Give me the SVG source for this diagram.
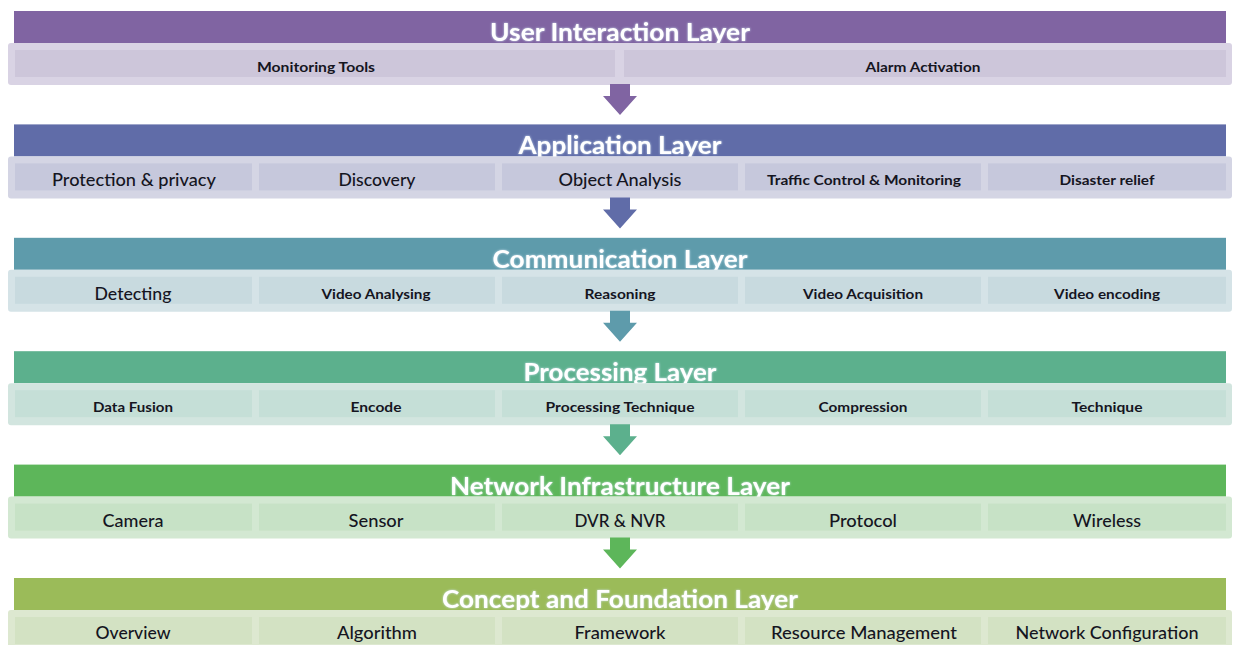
<svg xmlns="http://www.w3.org/2000/svg" width="1236" height="645" viewBox="0 0 1236 645">
  <style>
    .hdr { font-family: "Lato", "Open Sans", "Liberation Sans", sans-serif; font-weight: 700; font-size: 25px; fill: #ffffff; text-anchor: middle; }
    .big { font-family: "Lato", "Open Sans", "Liberation Sans", sans-serif; font-weight: 500; font-size: 17px; fill: #15151f; text-anchor: middle; }
    .small { font-family: "Lato", "Open Sans", "Liberation Sans", sans-serif; font-weight: 700; font-size: 14px; fill: #15151f; text-anchor: middle; }
  </style>
  <defs>
    <filter id="glow" x="-5%" y="-30%" width="110%" height="160%">
      <feGaussianBlur in="SourceAlpha" stdDeviation="1.2" result="b"/>
      <feFlood flood-color="#cfe4f2" flood-opacity="0.9"/>
      <feComposite in2="b" operator="in" result="g"/>
      <feMerge><feMergeNode in="g"/><feMergeNode in="SourceGraphic"/></feMerge>
    </filter>
    <path id="arrow" d="M610,0 H630 V12 H637 L620,31 L603,12 H610 Z"/>
  </defs>
  <rect width="1236" height="645" fill="#ffffff"/>

  <!-- User Interaction Layer -->
  <g id="user-interaction-layer">
    <rect x="14" y="11" width="1212" height="32" fill="#8064a2"/>
    <text class="hdr" x="620" y="41" textLength="260" lengthAdjust="spacingAndGlyphs" filter="url(#glow)">User Interaction Layer</text>
    <rect x="8" y="43" width="1224" height="42" rx="3" fill="#d9d3e4"/>
    <rect x="15" y="50" width="600" height="27" fill="#cdc6da"/>
    <rect x="624" y="50" width="602" height="27" fill="#cdc6da"/>
    <text class="small" x="316" y="72" textLength="118" lengthAdjust="spacingAndGlyphs">Monitoring Tools</text>
    <text class="small" x="923" y="72" textLength="115" lengthAdjust="spacingAndGlyphs">Alarm Activation</text>
  </g>

  <!-- Application Layer -->
  <g id="application-layer" transform="translate(0,113.4)">
    <rect x="14" y="11" width="1212" height="32" fill="#606ca8"/>
    <text class="hdr" x="620" y="41" textLength="203" lengthAdjust="spacingAndGlyphs" filter="url(#glow)">Application Layer</text>
    <rect x="8" y="43" width="1224" height="42" rx="3" fill="#d4d5e4"/>
    <rect x="15" y="50" width="237" height="27" fill="#c6c8dc"/>
    <rect x="259" y="50" width="236" height="27" fill="#c6c8dc"/>
    <rect x="502" y="50" width="236" height="27" fill="#c6c8dc"/>
    <rect x="745" y="50" width="236" height="27" fill="#c6c8dc"/>
    <rect x="988" y="50" width="238" height="27" fill="#c6c8dc"/>
    <text class="big" x="134" y="73" textLength="164" lengthAdjust="spacingAndGlyphs">Protection &amp; privacy</text>
    <text class="big" x="377" y="73" textLength="77" lengthAdjust="spacingAndGlyphs">Discovery</text>
    <text class="big" x="620" y="73" textLength="123" lengthAdjust="spacingAndGlyphs">Object Analysis</text>
    <text class="small" x="864" y="72" textLength="194" lengthAdjust="spacingAndGlyphs">Traffic Control &amp; Monitoring</text>
    <text class="small" x="1107" y="72" textLength="95" lengthAdjust="spacingAndGlyphs">Disaster relief</text>
  </g>

  <!-- Communication Layer -->
  <g id="communication-layer" transform="translate(0,226.8)">
    <rect x="14" y="11" width="1212" height="32" fill="#5e9bab"/>
    <text class="hdr" x="620" y="41" textLength="255" lengthAdjust="spacingAndGlyphs" filter="url(#glow)">Communication Layer</text>
    <rect x="8" y="43" width="1224" height="42" rx="3" fill="#d5e3e7"/>
    <rect x="15" y="50" width="237" height="27" fill="#c8dadf"/>
    <rect x="259" y="50" width="236" height="27" fill="#c8dadf"/>
    <rect x="502" y="50" width="236" height="27" fill="#c8dadf"/>
    <rect x="745" y="50" width="236" height="27" fill="#c8dadf"/>
    <rect x="988" y="50" width="238" height="27" fill="#c8dadf"/>
    <text class="big" x="133" y="73" textLength="77" lengthAdjust="spacingAndGlyphs">Detecting</text>
    <text class="small" x="376" y="72" textLength="109" lengthAdjust="spacingAndGlyphs">Video Analysing</text>
    <text class="small" x="620" y="72" textLength="71" lengthAdjust="spacingAndGlyphs">Reasoning</text>
    <text class="small" x="863" y="72" textLength="120" lengthAdjust="spacingAndGlyphs">Video Acquisition</text>
    <text class="small" x="1107" y="72" textLength="106" lengthAdjust="spacingAndGlyphs">Video encoding</text>
  </g>

  <!-- Processing Layer -->
  <g id="processing-layer" transform="translate(0,340.2)">
    <rect x="14" y="11" width="1212" height="32" fill="#5cb08d"/>
    <text class="hdr" x="620" y="41" textLength="193" lengthAdjust="spacingAndGlyphs" filter="url(#glow)">Processing Layer</text>
    <rect x="8" y="43" width="1224" height="42" rx="3" fill="#d2e5df"/>
    <rect x="15" y="50" width="237" height="27" fill="#c5dfd7"/>
    <rect x="259" y="50" width="236" height="27" fill="#c5dfd7"/>
    <rect x="502" y="50" width="236" height="27" fill="#c5dfd7"/>
    <rect x="745" y="50" width="236" height="27" fill="#c5dfd7"/>
    <rect x="988" y="50" width="238" height="27" fill="#c5dfd7"/>
    <text class="small" x="133" y="72" textLength="80" lengthAdjust="spacingAndGlyphs">Data Fusion</text>
    <text class="small" x="376" y="72" textLength="51" lengthAdjust="spacingAndGlyphs">Encode</text>
    <text class="small" x="620" y="72" textLength="149" lengthAdjust="spacingAndGlyphs">Processing Technique</text>
    <text class="small" x="863" y="72" textLength="89" lengthAdjust="spacingAndGlyphs">Compression</text>
    <text class="small" x="1107" y="72" textLength="71" lengthAdjust="spacingAndGlyphs">Technique</text>
  </g>

  <!-- Network Infrastructure Layer -->
  <g id="network-infrastructure-layer" transform="translate(0,453.6)">
    <rect x="14" y="11" width="1212" height="32" fill="#5db65a"/>
    <text class="hdr" x="620" y="41" textLength="340" lengthAdjust="spacingAndGlyphs" filter="url(#glow)">Network Infrastructure Layer</text>
    <rect x="8" y="43" width="1224" height="42" rx="3" fill="#d3e8d2"/>
    <rect x="15" y="50" width="237" height="27" fill="#c7e2c6"/>
    <rect x="259" y="50" width="236" height="27" fill="#c7e2c6"/>
    <rect x="502" y="50" width="236" height="27" fill="#c7e2c6"/>
    <rect x="745" y="50" width="236" height="27" fill="#c7e2c6"/>
    <rect x="988" y="50" width="238" height="27" fill="#c7e2c6"/>
    <text class="big" x="133" y="73" textLength="61" lengthAdjust="spacingAndGlyphs">Camera</text>
    <text class="big" x="376" y="73" textLength="55" lengthAdjust="spacingAndGlyphs">Sensor</text>
    <text class="big" x="620" y="73" textLength="91" lengthAdjust="spacingAndGlyphs">DVR &amp; NVR</text>
    <text class="big" x="863" y="73" textLength="68" lengthAdjust="spacingAndGlyphs">Protocol</text>
    <text class="big" x="1107" y="73" textLength="68" lengthAdjust="spacingAndGlyphs">Wireless</text>
  </g>

  <!-- Concept and Foundation Layer -->
  <g id="concept-foundation-layer" transform="translate(0,567)">
    <rect x="14" y="11" width="1212" height="32" fill="#9bbb59"/>
    <text class="hdr" x="620" y="41" textLength="356" lengthAdjust="spacingAndGlyphs" filter="url(#glow)">Concept and Foundation Layer</text>
    <rect x="8" y="43" width="1224" height="42" rx="3" fill="#dde8d0"/>
    <rect x="15" y="50" width="237" height="27" fill="#d3e2c3"/>
    <rect x="259" y="50" width="236" height="27" fill="#d3e2c3"/>
    <rect x="502" y="50" width="236" height="27" fill="#d3e2c3"/>
    <rect x="745" y="50" width="236" height="27" fill="#d3e2c3"/>
    <rect x="988" y="50" width="238" height="27" fill="#d3e2c3"/>
    <text class="big" x="133" y="72" textLength="75" lengthAdjust="spacingAndGlyphs">Overview</text>
    <text class="big" x="377" y="72" textLength="80" lengthAdjust="spacingAndGlyphs">Algorithm</text>
    <text class="big" x="620" y="72" textLength="91" lengthAdjust="spacingAndGlyphs">Framework</text>
    <text class="big" x="864" y="72" textLength="186" lengthAdjust="spacingAndGlyphs">Resource Management</text>
    <text class="big" x="1107" y="72" textLength="183" lengthAdjust="spacingAndGlyphs">Network Configuration</text>
  </g>

  <!-- Downward arrows between layers -->
  <g id="connectors">
    <use href="#arrow" transform="translate(0,84)" fill="#8064a2"/>
    <use href="#arrow" transform="translate(0,197.4)" fill="#606ca8"/>
    <use href="#arrow" transform="translate(0,310.8)" fill="#5e9bab"/>
    <use href="#arrow" transform="translate(0,424.2)" fill="#5cb08d"/>
    <use href="#arrow" transform="translate(0,537.6)" fill="#5db65a"/>
  </g>
</svg>
